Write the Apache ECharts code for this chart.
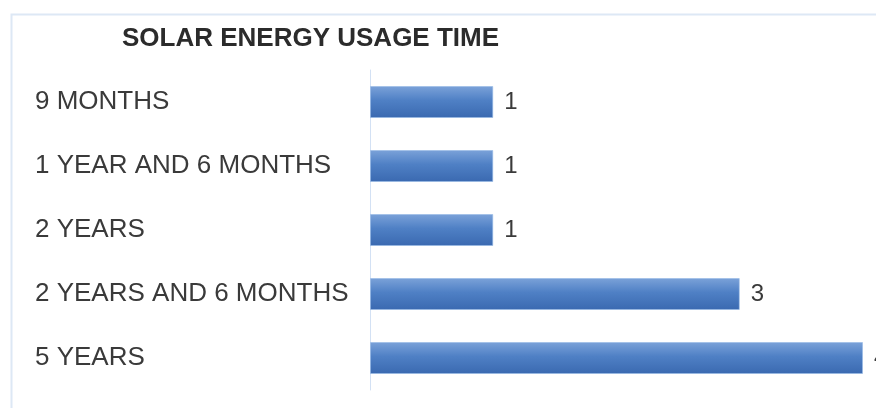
<!DOCTYPE html>
<html>
<head>
<meta charset="utf-8">
<script src="https://cdn.jsdelivr.net/npm/echarts@6/dist/echarts.min.js"></script>
<style>
  html, body { margin: 0; padding: 0; background: #fff; }
  #chart { width: 876px; height: 408px; }
</style>
</head>
<body>
<div id="chart"></div>
<script>
// categories top to bottom
const categories = ['9 MONTHS', '1 YEAR AND 6 MONTHS', '2 YEARS', '2 YEARS AND 6 MONTHS', '5 YEARS']
const counts = [1, 1, 1, 3, 4]

const myChart = echarts.init(document.getElementById('chart'))
myChart.setOption({
  animation: false,
  textStyle: { fontFamily: 'Liberation Sans, Arial, sans-serif' },
  title: {
    text: 'SOLAR ENERGY USAGE TIME',
    left: 117,
    top: 21,
    textStyle: {
      fontSize: 26,
      fontWeight: 'bold',
      color: '#2b2b2b',
      fontFamily: 'Liberation Sans, Arial, sans-serif'
    }
  },
  graphic: [
    {
      type: 'rect',
      left: 9,
      top: 12,
      shape: { width: 900, height: 500 },
      style: { fill: 'none', stroke: '#dde8f5', lineWidth: 2 },
      silent: true
    }
  ],
  grid: {
    left: 370,
    right: 13,
    top: 70,
    bottom: 18
  },
  xAxis: {
    type: 'value',
    min: 0,
    max: 4,
    show: false
  },
  yAxis: {
    type: 'category',
    inverse: true,
    data: categories,
    axisLine: { show: true, lineStyle: { color: '#d3e1f4', width: 1 } },
    axisTick: { show: false },
    axisLabel: {
      align: 'left',
      margin: 335,
      fontSize: 26,
      color: '#3a3a3a'
    }
  },
  series: [
    {
      type: 'bar',
      data: counts,
      barWidth: '50%',
      itemStyle: {
        color: new echarts.graphic.LinearGradient(0, 0, 0, 1, [
          { offset: 0, color: '#7ba2d9' },
          { offset: 0.45, color: '#4f80c5' },
          { offset: 1, color: '#3a69b0' }
        ]),
        borderColor: 'rgba(150,185,230,0.6)',
        borderWidth: 1
      },
      label: {
        show: true,
        position: 'right',
        distance: 11,
        fontSize: 24,
        color: '#3a3a3a'
      }
    }
  ]
})
</script>
</body>
</html>
